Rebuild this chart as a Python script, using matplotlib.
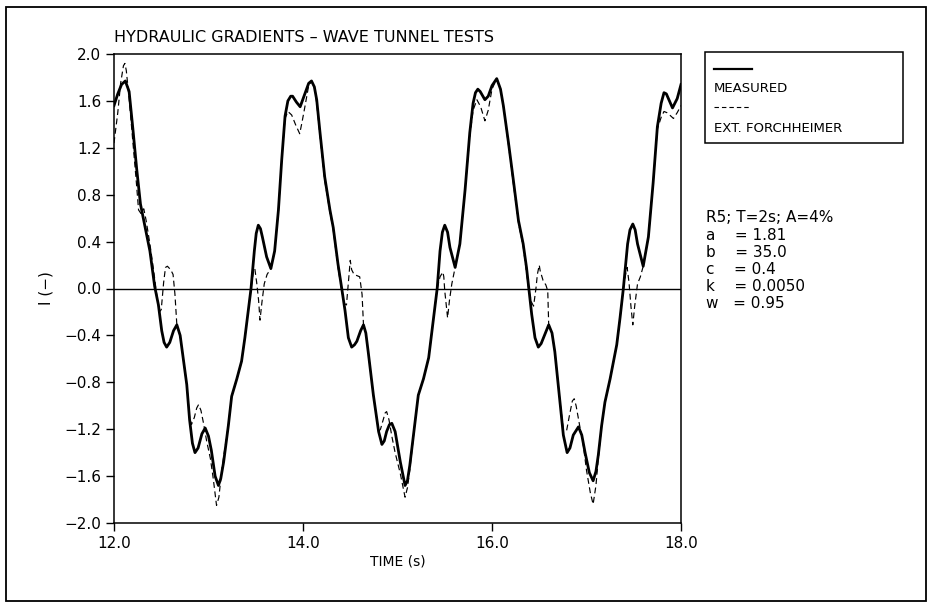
import matplotlib
matplotlib.use("Agg")
import matplotlib.pyplot as plt
from matplotlib.patches import Rectangle
from matplotlib.lines import Line2D

# Measured hydraulic gradient (time in s, gradient I in -)
measured_t = [12.00, 12.04, 12.08, 12.12, 12.16, 12.20, 12.24, 12.28, 12.33, 12.38,
              12.43, 12.47, 12.505, 12.53, 12.557, 12.59, 12.63, 12.665, 12.70, 12.73,
              12.77, 12.80, 12.83, 12.857, 12.89, 12.93, 12.965, 13.00, 13.03, 13.07,
              13.105, 13.13, 13.16, 13.21, 13.245, 13.30, 13.35, 13.385, 13.42, 13.45,
              13.485, 13.505, 13.527, 13.55, 13.57, 13.615, 13.66, 13.70, 13.74, 13.775,
              13.81, 13.84, 13.87, 13.89, 13.93, 13.97, 14.02, 14.06, 14.09, 14.12,
              14.145, 14.18, 14.23, 14.285, 14.32, 14.37, 14.41, 14.445, 14.48, 14.515,
              14.545, 14.57, 14.61, 14.64, 14.665, 14.69, 14.745, 14.80, 14.835, 14.86,
              14.885, 14.915, 14.94, 14.975, 15.03, 15.08, 15.105, 15.13, 15.185, 15.22,
              15.275, 15.33, 15.36, 15.40, 15.42, 15.45, 15.475, 15.50, 15.53, 15.555,
              15.61, 15.66, 15.715, 15.765, 15.80, 15.825, 15.85, 15.875, 15.925, 15.96,
              16.00, 16.05, 16.09, 16.12, 16.175, 16.225, 16.28, 16.33, 16.365, 16.39,
              16.42, 16.455, 16.49, 16.52, 16.545, 16.60, 16.635, 16.665, 16.72, 16.755,
              16.795, 16.825, 16.86, 16.915, 16.95, 16.985, 17.03, 17.07, 17.10, 17.125,
              17.16, 17.195, 17.25, 17.32, 17.355, 17.39, 17.435, 17.46, 17.49, 17.515,
              17.54, 17.60, 17.655, 17.705, 17.75, 17.79, 17.82, 17.845, 17.91, 17.96,
              18.00]
measured_i = [1.56, 1.66, 1.74, 1.77, 1.68, 1.36, 1.02, 0.72, 0.52, 0.32,
              0.02, -0.14, -0.36, -0.46, -0.50, -0.46, -0.36, -0.31, -0.40, -0.58,
              -0.82, -1.12, -1.32, -1.40, -1.36, -1.24, -1.19, -1.26, -1.38, -1.60,
              -1.68, -1.62, -1.48, -1.17, -0.92, -0.77, -0.62, -0.42, -0.19, 0.00,
              0.32, 0.47, 0.54, 0.51, 0.44, 0.27, 0.17, 0.32, 0.67, 1.10,
              1.47, 1.60, 1.64, 1.64, 1.59, 1.55, 1.66, 1.75, 1.77, 1.72,
              1.61, 1.33, 0.95, 0.67, 0.52, 0.21, 0.00, -0.19, -0.42, -0.50,
              -0.48, -0.45, -0.36, -0.31, -0.38, -0.54, -0.91, -1.22, -1.33, -1.30,
              -1.22, -1.16, -1.15, -1.22, -1.48, -1.68, -1.64, -1.51, -1.14, -0.91,
              -0.77, -0.59, -0.39, -0.13, 0.00, 0.32, 0.48, 0.54, 0.48, 0.35,
              0.18, 0.38, 0.84, 1.33, 1.58, 1.67, 1.70, 1.68, 1.61, 1.64,
              1.73, 1.79, 1.70, 1.56, 1.24, 0.93, 0.58, 0.38, 0.18, 0.00,
              -0.22, -0.42, -0.50, -0.47, -0.42, -0.31, -0.38, -0.54, -0.97, -1.25,
              -1.40, -1.36, -1.25, -1.18, -1.25, -1.40, -1.57, -1.64, -1.56, -1.42,
              -1.17, -0.97, -0.77, -0.48, -0.25, 0.00, 0.38, 0.50, 0.55, 0.50,
              0.38, 0.19, 0.44, 0.90, 1.38, 1.58, 1.67, 1.66, 1.54, 1.62,
              1.74]

# Extended Forchheimer prediction
forch_t = [12.00, 12.04, 12.07, 12.10, 12.115, 12.13, 12.16, 12.20, 12.235, 12.26,
           12.285, 12.315, 12.34, 12.38, 12.42, 12.45, 12.48, 12.50, 12.525, 12.545,
           12.565, 12.60, 12.625, 12.645, 12.665, 12.70, 12.73, 12.77, 12.80, 12.82,
           12.85, 12.875, 12.895, 12.92, 12.95, 12.98, 13.02, 13.05, 13.085, 13.11,
           13.14, 13.17, 13.21, 13.245, 13.30, 13.35, 13.385, 13.42, 13.45, 13.475,
           13.49, 13.51, 13.53, 13.545, 13.565, 13.59, 13.62, 13.66, 13.70, 13.74,
           13.775, 13.81, 13.84, 13.88, 13.92, 13.965, 13.99, 14.02, 14.06, 14.09,
           14.12, 14.145, 14.18, 14.23, 14.285, 14.32, 14.37, 14.41, 14.44, 14.46,
           14.48, 14.50, 14.515, 14.54, 14.57, 14.60, 14.625, 14.64, 14.665, 14.69,
           14.745, 14.80, 14.82, 14.855, 14.87, 14.885, 14.91, 14.94, 14.975, 15.03,
           15.08, 15.105, 15.13, 15.185, 15.22, 15.275, 15.33, 15.36, 15.40, 15.42,
           15.45, 15.48, 15.49, 15.50, 15.53, 15.55, 15.575, 15.61, 15.66, 15.715,
           15.765, 15.80, 15.84, 15.88, 15.925, 15.96, 16.00, 16.05, 16.09, 16.12,
           16.175, 16.225, 16.28, 16.33, 16.365, 16.39, 16.42, 16.44, 16.465, 16.48,
           16.50, 16.51, 16.54, 16.57, 16.59, 16.60, 16.635, 16.665, 16.72, 16.755,
           16.79, 16.82, 16.85, 16.87, 16.89, 16.93, 16.96, 17.00, 17.04, 17.07,
           17.10, 17.125, 17.16, 17.195, 17.25, 17.32, 17.355, 17.39, 17.42, 17.43,
           17.45, 17.47, 17.49, 17.51, 17.54, 17.57, 17.60, 17.655, 17.705, 17.75,
           17.79, 17.82, 17.85, 17.88, 17.92, 17.96, 18.00]
forch_i = [1.24, 1.50, 1.75, 1.90, 1.92, 1.86, 1.62, 1.25, 0.92, 0.67,
           0.64, 0.68, 0.58, 0.38, 0.15, -0.04, -0.20, -0.18, 0.05, 0.18,
           0.19, 0.16, 0.12, -0.05, -0.31, -0.40, -0.58, -0.82, -1.10, -1.16,
           -1.10, -1.02, -0.99, -1.04, -1.16, -1.30, -1.45, -1.62, -1.85, -1.78,
           -1.55, -1.38, -1.17, -0.92, -0.77, -0.62, -0.42, -0.19, 0.00, 0.14,
           0.17, 0.05, -0.10, -0.27, -0.12, 0.04, 0.12, 0.17, 0.32, 0.67,
           1.10, 1.45, 1.51, 1.48, 1.40, 1.32, 1.42, 1.55, 1.73, 1.77,
           1.72, 1.58, 1.30, 0.92, 0.65, 0.50, 0.18, -0.02, -0.13, -0.14,
           0.05, 0.24, 0.16, 0.12, 0.11, 0.10, -0.05, -0.31, -0.38, -0.54,
           -0.91, -1.22, -1.20, -1.10, -1.06, -1.05, -1.12, -1.26, -1.40, -1.58,
           -1.78, -1.70, -1.55, -1.14, -0.91, -0.77, -0.59, -0.39, -0.13, 0.00,
           0.10, 0.14, 0.10, -0.02, -0.25, -0.10, 0.04, 0.18, 0.38, 0.84,
           1.30, 1.52, 1.61, 1.55, 1.43, 1.52, 1.70, 1.79, 1.70, 1.56,
           1.22, 0.90, 0.56, 0.36, 0.14, -0.02, -0.12, -0.15, 0.00, 0.12,
           0.20, 0.15, 0.07, 0.03, -0.02, -0.31, -0.38, -0.54, -0.97, -1.20,
           -1.21, -1.08, -0.96, -0.94, -1.00, -1.18, -1.30, -1.55, -1.74, -1.84,
           -1.68, -1.45, -1.17, -0.97, -0.77, -0.48, -0.25, 0.00, 0.15, 0.18,
           0.05, -0.15, -0.31, -0.15, 0.04, 0.10, 0.19, 0.44, 0.90, 1.36,
           1.46, 1.51, 1.50, 1.48, 1.45, 1.50, 1.56]

x_ticks = [12.0, 14.0, 16.0, 18.0]
y_ticks = [-2.0, -1.6, -1.2, -0.8, -0.4, 0.0, 0.4, 0.8, 1.2, 1.6, 2.0]

title_text = "HYDRAULIC GRADIENTS \u2013 WAVE TUNNEL TESTS"
legend_labels = ["MEASURED", "EXT. FORCHHEIMER"]
param_lines = ["R5; T=2s; A=4%", "a    = 1.81", "b    = 35.0", "c    = 0.4",
               "k    = 0.0050", "w   = 0.95"]

plt.rcParams["font.family"] = ["DejaVu Sans"]
W, H = 929, 604
fig = plt.figure(figsize=(W / 100, H / 100), dpi=100)
fig.patch.set_facecolor("white")


def fx(px):
    return px / W


def fy(py):
    return 1 - py / H


# outer frame around the whole sheet
fig.add_artist(Rectangle((fx(6), fy(601)), fx(926) - fx(6), fy(7) - fy(601),
                         transform=fig.transFigure, fill=False, lw=1.3, ec="black"))

ax = fig.add_axes([fx(114), fy(523), fx(681) - fx(114), fy(54) - fy(523)])
ax.plot(measured_t, measured_i, color="black", lw=2.0, solid_joinstyle="round")
ax.plot(forch_t, forch_i, color="black", lw=0.85, dashes=(5, 3))
ax.axhline(0.0, color="black", lw=1.0)

ax.set_xlim(12.0, 18.0)
ax.set_ylim(-2.0, 2.0)
ax.set_xticks(x_ticks)
ax.set_xticklabels([f"{v:.1f}" for v in x_ticks])
ax.set_yticks(y_ticks)
ax.set_yticklabels([f"{v:.1f}".replace("-", "\u2212") for v in y_ticks])
ax.tick_params(direction="out", length=6, width=1, labelsize=11, pad=3)
for s in ax.spines.values():
    s.set_linewidth(1.1)

ax.set_xlabel("TIME (s)", fontsize=10, labelpad=3)
ax.set_ylabel("I (\u2212)", fontsize=11, labelpad=8)

fig.text(fx(114), fy(38), title_text, fontsize=11.5, ha="left", va="center")

# legend box
fig.add_artist(Rectangle((fx(705), fy(143)), fx(903) - fx(705), fy(52) - fy(143),
                         transform=fig.transFigure, fill=False, lw=1.1, ec="black"))
fig.add_artist(Line2D([fx(714), fx(752)], [fy(69), fy(69)], transform=fig.transFigure,
                      color="black", lw=1.6))
fig.text(fx(714), fy(89), legend_labels[0], fontsize=9.5, ha="left", va="center")
fig.add_artist(Line2D([fx(714), fx(751)], [fy(107), fy(107)], transform=fig.transFigure,
                      color="black", lw=0.8, dashes=(4, 2.7)))
fig.text(fx(714), fy(128), legend_labels[1], fontsize=9.5, ha="left", va="center")

# model parameters
for k, line in enumerate(param_lines):
    fig.text(fx(706), fy(218 + 17.2 * k), line, fontsize=11, ha="left", va="center")

fig.savefig("out.png", dpi=100, facecolor="white")
